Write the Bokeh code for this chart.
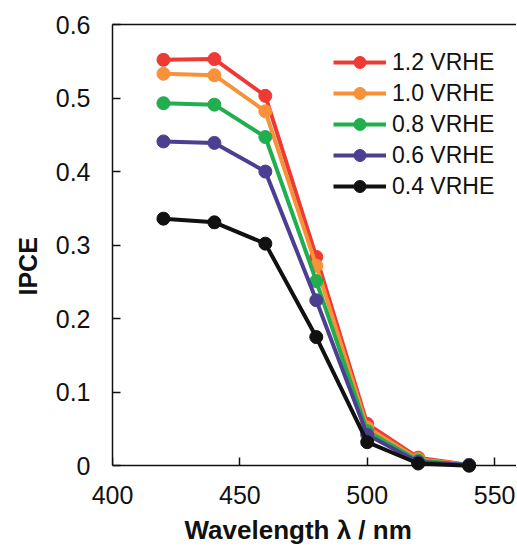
from bokeh.plotting import figure
from bokeh.models import (Range1d, FixedTicker, LinearAxis, Legend, LegendItem, Title)
from bokeh.embed import file_html
from bokeh.resources import INLINE

wavelength = [420, 440, 460, 480, 500, 520, 540]
ipce_12 = [0.552, 0.553, 0.503, 0.284, 0.057, 0.011, 0.001]
ipce_10 = [0.533, 0.531, 0.482, 0.272, 0.052, 0.009, 0.001]
ipce_08 = [0.493, 0.491, 0.447, 0.251, 0.047, 0.007, 0.001]
ipce_06 = [0.441, 0.439, 0.400, 0.225, 0.042, 0.005, 0.001]
ipce_04 = [0.336, 0.331, 0.302, 0.175, 0.032, 0.003, 0.000]
series_labels = ["1.2 VRHE", "1.0 VRHE", "0.8 VRHE", "0.6 VRHE", "0.4 VRHE"]
series_colors = ["#EE3A35", "#F7923A", "#21AE4E", "#4C3F92", "#111111"]
x_ticks = [400, 450, 500, 550]
y_ticks = [0, 0.1, 0.2, 0.3, 0.4, 0.5, 0.6]
x_title = "Wavelength λ / nm"
y_title = "IPCE"

FONT = "Liberation Sans"
INK = "#111111"

p = figure(width=516, height=550, output_backend="svg", toolbar_location=None,
           x_range=Range1d(400, 558.6), y_range=Range1d(-0.016, 0.6),
           x_axis_location=None, y_axis_location=None,
           min_border_left=111, min_border_right=0, min_border_top=24,
           min_border_bottom=73)
p.outline_line_color = None
p.grid.visible = False

# axis line + inward ticks at y = 0
xline = LinearAxis(ticker=FixedTicker(ticks=x_ticks), fixed_location=0,
                   major_label_text_font_size="0px", major_label_standoff=0)
# labels of x axis (frame bottom sits just below y = 0)
xlab = LinearAxis(ticker=FixedTicker(ticks=x_ticks), axis_line_color=None,
                  major_tick_line_color=None, minor_tick_line_color=None)
ya = LinearAxis(ticker=FixedTicker(ticks=y_ticks), bounds=(0, 0.6))
ya.major_label_overrides = {0: "0"}
for ax in (xline, ya):
    ax.major_tick_in = 8
    ax.major_tick_out = 0
    ax.minor_tick_line_color = None
    ax.axis_line_width = 1.5
    ax.major_tick_line_width = 1.5
    ax.axis_line_color = INK
    ax.major_tick_line_color = INK
for ax in (xlab, ya):
    ax.major_label_text_font = FONT
    ax.major_label_text_font_size = "25px"
    ax.major_label_text_color = INK
xlab.major_tick_out = 0
xlab.major_tick_in = 0
xlab.major_label_standoff = 8
ya.major_label_standoff = 22
p.add_layout(xline, "below")
p.add_layout(xlab, "below")
p.add_layout(ya, "left")

top = LinearAxis(ticker=FixedTicker(ticks=[]), axis_line_width=1.5,
                 axis_line_color=INK, major_label_text_font_size="0px")
p.add_layout(top, "above")

xtitle = Title(text=x_title, align="left", offset=72,
               text_font=FONT, text_font_style="bold", text_font_size="26px",
               text_color=INK, standoff=12)
p.add_layout(xtitle, "below")
ytitle = Title(text=y_title, align="left", offset=182,
               text_font=FONT, text_font_style="bold", text_font_size="25px",
               text_color=INK, standoff=22)
p.add_layout(ytitle, "left")

all_series = [ipce_12, ipce_10, ipce_08, ipce_06, ipce_04]
items = []
for vals, lab, col in zip(all_series, series_labels, series_colors):
    r1 = p.line(wavelength, vals, line_color=col, line_width=4)
    r2 = p.scatter(wavelength, vals, size=13, fill_color=col, line_color=col)
    items.append(LegendItem(label=lab, renderers=[r1, r2]))

legend = Legend(items=items, location=(221, 276))
legend.background_fill_alpha = 0
legend.border_line_color = None
legend.padding = 0
legend.margin = 0
legend.spacing = 1
legend.glyph_width = 53
legend.glyph_height = 30
legend.label_height = 27
legend.label_standoff = 6
legend.label_text_font = FONT
legend.label_text_font_size = "23px"
legend.label_text_color = INK
p.add_layout(legend, "center")

open("out.html", "w").write(file_html(p, INLINE))
